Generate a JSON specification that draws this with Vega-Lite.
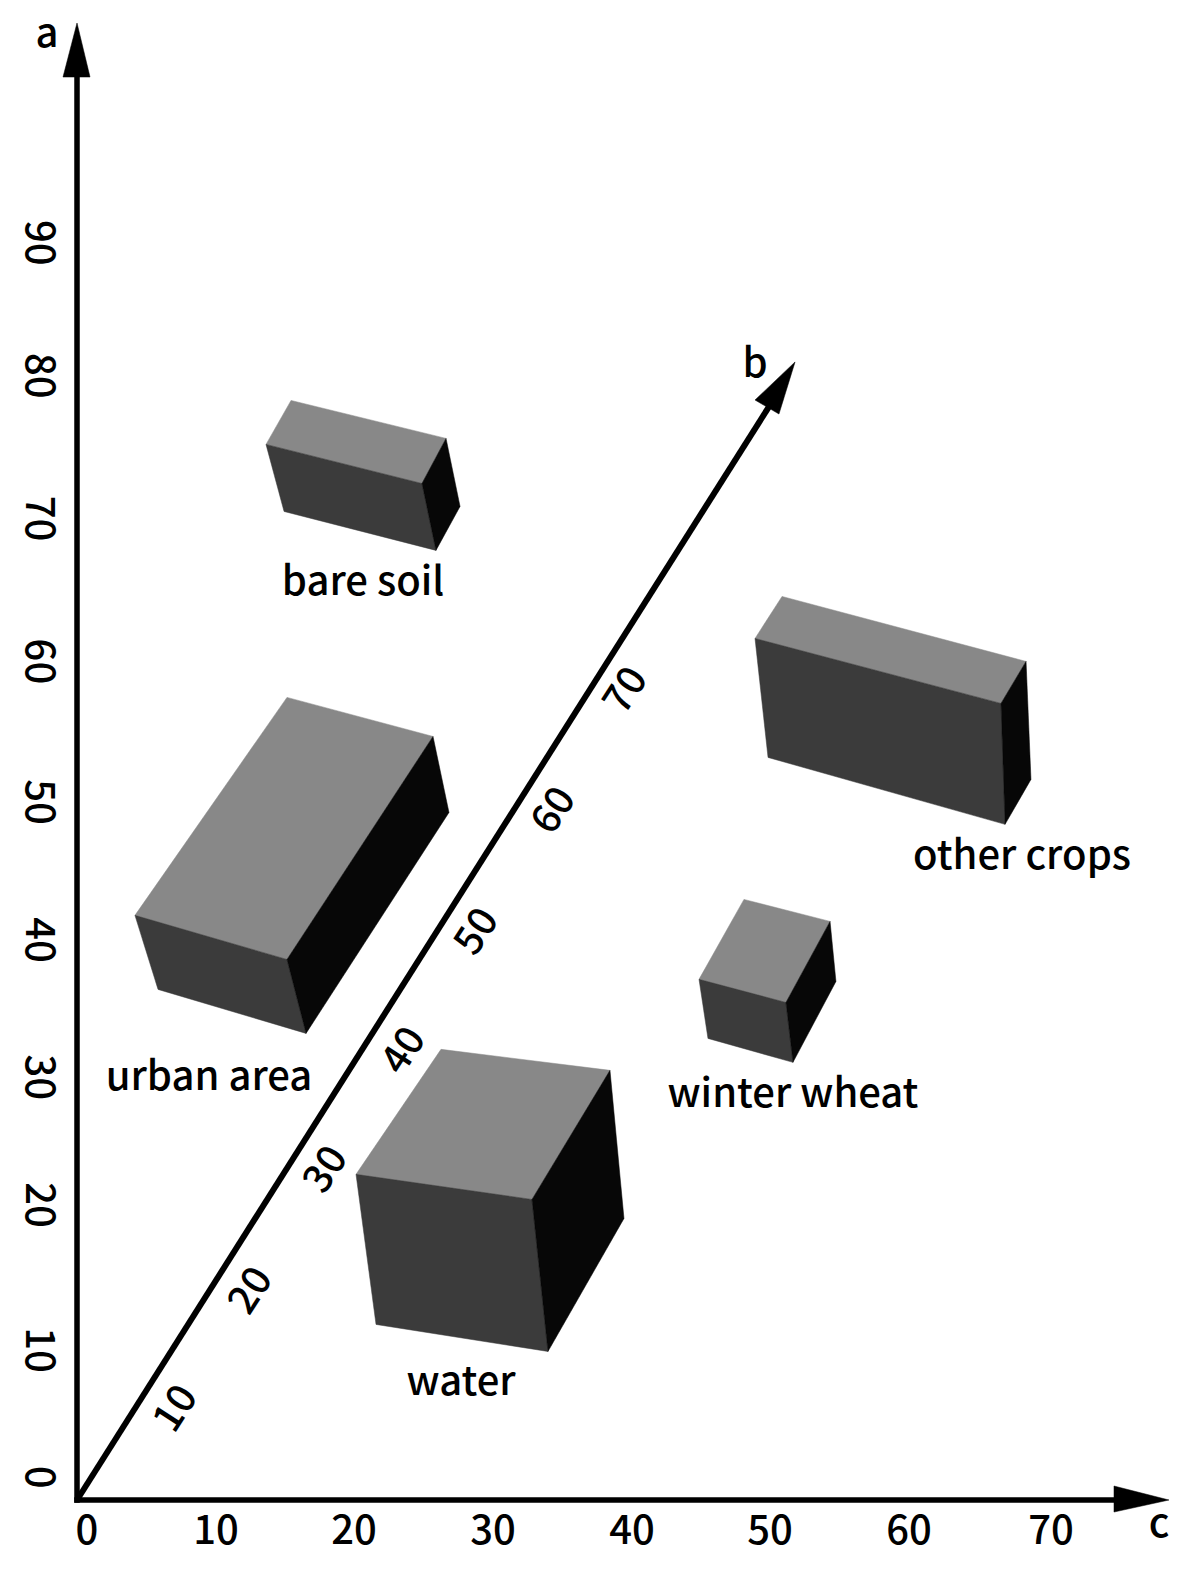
{"$schema":"https://vega.github.io/schema/vega-lite/v6.json","width":1192,"height":1571,"padding":0,"autosize":{"type":"fit","contains":"padding"},"background":"white","config":{"view":{"stroke":null}},
"datasets":{
"faces":[
{"box":"bare soil","face":"top","n":1,"c":15.29,"a":78.54},{"box":"bare soil","face":"top","n":2,"c":26.36,"a":75.83},{"box":"bare soil","face":"top","n":3,"c":24.64,"a":72.61},{"box":"bare soil","face":"top","n":4,"c":13.5,"a":75.4},
{"box":"bare soil","face":"front","n":1,"c":13.5,"a":75.4},{"box":"bare soil","face":"front","n":2,"c":24.64,"a":72.61},{"box":"bare soil","face":"front","n":3,"c":25.64,"a":67.83},{"box":"bare soil","face":"front","n":4,"c":14.79,"a":70.61},
{"box":"bare soil","face":"side","n":1,"c":26.36,"a":75.83},{"box":"bare soil","face":"side","n":2,"c":27.36,"a":70.97},{"box":"bare soil","face":"side","n":3,"c":25.64,"a":67.83},{"box":"bare soil","face":"side","n":4,"c":24.64,"a":72.61},
{"box":"urban area","face":"top","n":1,"c":15,"a":57.33},{"box":"urban area","face":"top","n":2,"c":25.43,"a":54.54},{"box":"urban area","face":"top","n":3,"c":15,"a":38.61},{"box":"urban area","face":"top","n":4,"c":4.14,"a":41.76},
{"box":"urban area","face":"front","n":1,"c":4.14,"a":41.76},{"box":"urban area","face":"front","n":2,"c":15,"a":38.61},{"box":"urban area","face":"front","n":3,"c":16.36,"a":33.33},{"box":"urban area","face":"front","n":4,"c":5.79,"a":36.47},
{"box":"urban area","face":"side","n":1,"c":25.43,"a":54.54},{"box":"urban area","face":"side","n":2,"c":26.57,"a":49.11},{"box":"urban area","face":"side","n":3,"c":16.36,"a":33.33},{"box":"urban area","face":"side","n":4,"c":15,"a":38.61},
{"box":"other crops","face":"top","n":1,"c":50.36,"a":64.54},{"box":"other crops","face":"top","n":2,"c":67.79,"a":59.9},{"box":"other crops","face":"top","n":3,"c":66,"a":56.9},{"box":"other crops","face":"top","n":4,"c":48.43,"a":61.54},
{"box":"other crops","face":"front","n":1,"c":48.43,"a":61.54},{"box":"other crops","face":"front","n":2,"c":66,"a":56.9},{"box":"other crops","face":"front","n":3,"c":66.29,"a":48.26},{"box":"other crops","face":"front","n":4,"c":49.36,"a":53.04},
{"box":"other crops","face":"side","n":1,"c":67.79,"a":59.9},{"box":"other crops","face":"side","n":2,"c":68.14,"a":51.47},{"box":"other crops","face":"side","n":3,"c":66.29,"a":48.26},{"box":"other crops","face":"side","n":4,"c":66,"a":56.9},
{"box":"winter wheat","face":"top","n":1,"c":47.64,"a":42.9},{"box":"winter wheat","face":"top","n":2,"c":53.79,"a":41.33},{"box":"winter wheat","face":"top","n":3,"c":50.64,"a":35.54},{"box":"winter wheat","face":"top","n":4,"c":44.43,"a":37.19},
{"box":"winter wheat","face":"front","n":1,"c":44.43,"a":37.19},{"box":"winter wheat","face":"front","n":2,"c":50.64,"a":35.54},{"box":"winter wheat","face":"front","n":3,"c":51.14,"a":31.26},{"box":"winter wheat","face":"front","n":4,"c":45.07,"a":32.97},
{"box":"winter wheat","face":"side","n":1,"c":53.79,"a":41.33},{"box":"winter wheat","face":"side","n":2,"c":54.21,"a":37.04},{"box":"winter wheat","face":"side","n":3,"c":51.14,"a":31.26},{"box":"winter wheat","face":"side","n":4,"c":50.64,"a":35.54},
{"box":"water","face":"top","n":1,"c":26,"a":32.19},{"box":"water","face":"top","n":2,"c":38.07,"a":30.69},{"box":"water","face":"top","n":3,"c":32.5,"a":21.47},{"box":"water","face":"top","n":4,"c":19.93,"a":23.26},
{"box":"water","face":"front","n":1,"c":19.93,"a":23.26},{"box":"water","face":"front","n":2,"c":32.5,"a":21.47},{"box":"water","face":"front","n":3,"c":33.64,"a":10.61},{"box":"water","face":"front","n":4,"c":21.36,"a":12.54},
{"box":"water","face":"side","n":1,"c":38.07,"a":30.69},{"box":"water","face":"side","n":2,"c":39.07,"a":20.11},{"box":"water","face":"side","n":3,"c":33.64,"a":10.61},{"box":"water","face":"side","n":4,"c":32.5,"a":21.47}
],
"shafts":[
{"axis":"a","n":1,"c":0,"a":0},{"axis":"a","n":2,"c":0,"a":101.79},
{"axis":"c","n":1,"c":0,"a":0},{"axis":"c","n":2,"c":74.14,"a":0}
],
"shaftB":[
{"n":1,"c":0,"a":0},{"n":2,"c":49.5,"a":78.21}
],
"heads":[
{"axis":"a","n":1,"c":0,"a":105.5},{"axis":"a","n":2,"c":0.93,"a":101.64},{"axis":"a","n":3,"c":-1,"a":101.64},
{"axis":"b","n":1,"c":51.29,"a":81.29},{"axis":"b","n":2,"c":50.14,"a":77.57},{"axis":"b","n":3,"c":48.43,"a":78.57},
{"axis":"c","n":1,"c":78,"a":0},{"axis":"c","n":2,"c":74.07,"a":-0.86},{"axis":"c","n":3,"c":74.07,"a":1}
],
"cTicks":[{"t":"0","c":0.71,"a":-2.28},{"t":"10","c":9.93,"a":-2.28},{"t":"20","c":19.79,"a":-2.28},{"t":"30","c":29.71,"a":-2.28},{"t":"40","c":39.64,"a":-2.28},{"t":"50","c":49.5,"a":-2.28},{"t":"60","c":59.43,"a":-2.28},{"t":"70","c":69.57,"a":-2.28}],
"aTicks":[{"t":"0","c":-2.8,"a":1.64},{"t":"10","c":-2.8,"a":10.71},{"t":"20","c":-2.8,"a":21.07},{"t":"30","c":-2.8,"a":30.2},{"t":"40","c":-2.8,"a":40},{"t":"50","c":-2.8,"a":49.86},{"t":"60","c":-2.8,"a":59.9},{"t":"70","c":-2.8,"a":70.1},{"t":"80","c":-2.8,"a":80.3},{"t":"90","c":-2.8,"a":89.8}],
"bTicks":[{"t":"10","c":7.1,"a":6.5},{"t":"20","c":12.46,"a":14.93},{"t":"30","c":17.81,"a":23.57},{"t":"40","c":23.39,"a":32.07},{"t":"50","c":28.6,"a":40.57},{"t":"60","c":34.1,"a":49.22},{"t":"70","c":39.24,"a":57.79}],
"names":[{"t":"bare soil","c":20.43,"a":65.5},{"t":"urban area","c":9.43,"a":30.15},{"t":"other crops","c":67.5,"a":45.93},{"t":"winter wheat","c":51.14,"a":28.93},{"t":"water","c":27.43,"a":8.36},{"t":"a","c":-2.14,"a":104.64},{"t":"b","c":48.43,"a":81.09},{"t":"c","c":77.29,"a":-1.79}]
},
"encoding":{
"x":{"field":"c","type":"quantitative","scale":{"domain":[-5.5,79.643],"nice":false,"zero":false},"axis":null},
"y":{"field":"a","type":"quantitative","scale":{"domain":[-5.071,107.143],"nice":false,"zero":false},"axis":null}
},
"layer":[
{"data":{"name":"faces"},"mark":{"type":"line","strokeWidth":0.5,"interpolate":"linear-closed"},"encoding":{"detail":[{"field":"box"},{"field":"face"}],"order":{"field":"n","type":"quantitative"},"fill":{"field":"face","type":"nominal","legend":null,"scale":{"domain":["top","front","side"],"range":["#888888","#3b3b3b","#070707"]}},"stroke":{"field":"face","type":"nominal","legend":null,"scale":{"domain":["top","front","side"],"range":["#888888","#3b3b3b","#070707"]}}}},
{"data":{"name":"shafts"},"mark":{"type":"line","color":"#000000","strokeWidth":5.5,"strokeCap":"square"},"encoding":{"detail":{"field":"axis"},"order":{"field":"n","type":"quantitative"}}},
{"data":{"name":"shaftB"},"mark":{"type":"line","color":"#000000","strokeWidth":6},"encoding":{"order":{"field":"n","type":"quantitative"}}},
{"data":{"name":"heads"},"mark":{"type":"line","interpolate":"linear-closed","fill":"#000000","stroke":"#000000","strokeWidth":0.5},"encoding":{"detail":{"field":"axis"},"order":{"field":"n","type":"quantitative"}}},
{"data":{"name":"cTicks"},"mark":{"type":"text","font":"Noto Sans CJK SC","fontSize":40,"fontWeight":500,"align":"center","baseline":"middle","color":"#000000"},"encoding":{"text":{"field":"t"}}},
{"data":{"name":"aTicks"},"mark":{"type":"text","font":"Noto Sans CJK SC","fontSize":40,"fontWeight":500,"align":"center","baseline":"middle","angle":90,"color":"#000000"},"encoding":{"text":{"field":"t"}}},
{"data":{"name":"bTicks"},"mark":{"type":"text","font":"Noto Sans CJK SC","fontSize":40,"fontWeight":500,"align":"center","baseline":"middle","angle":303,"color":"#000000"},"encoding":{"text":{"field":"t"}}},
{"data":{"name":"names"},"mark":{"type":"text","font":"Noto Sans CJK SC","fontSize":40,"fontWeight":500,"align":"center","baseline":"middle","color":"#000000"},"encoding":{"text":{"field":"t"}}}
]}
